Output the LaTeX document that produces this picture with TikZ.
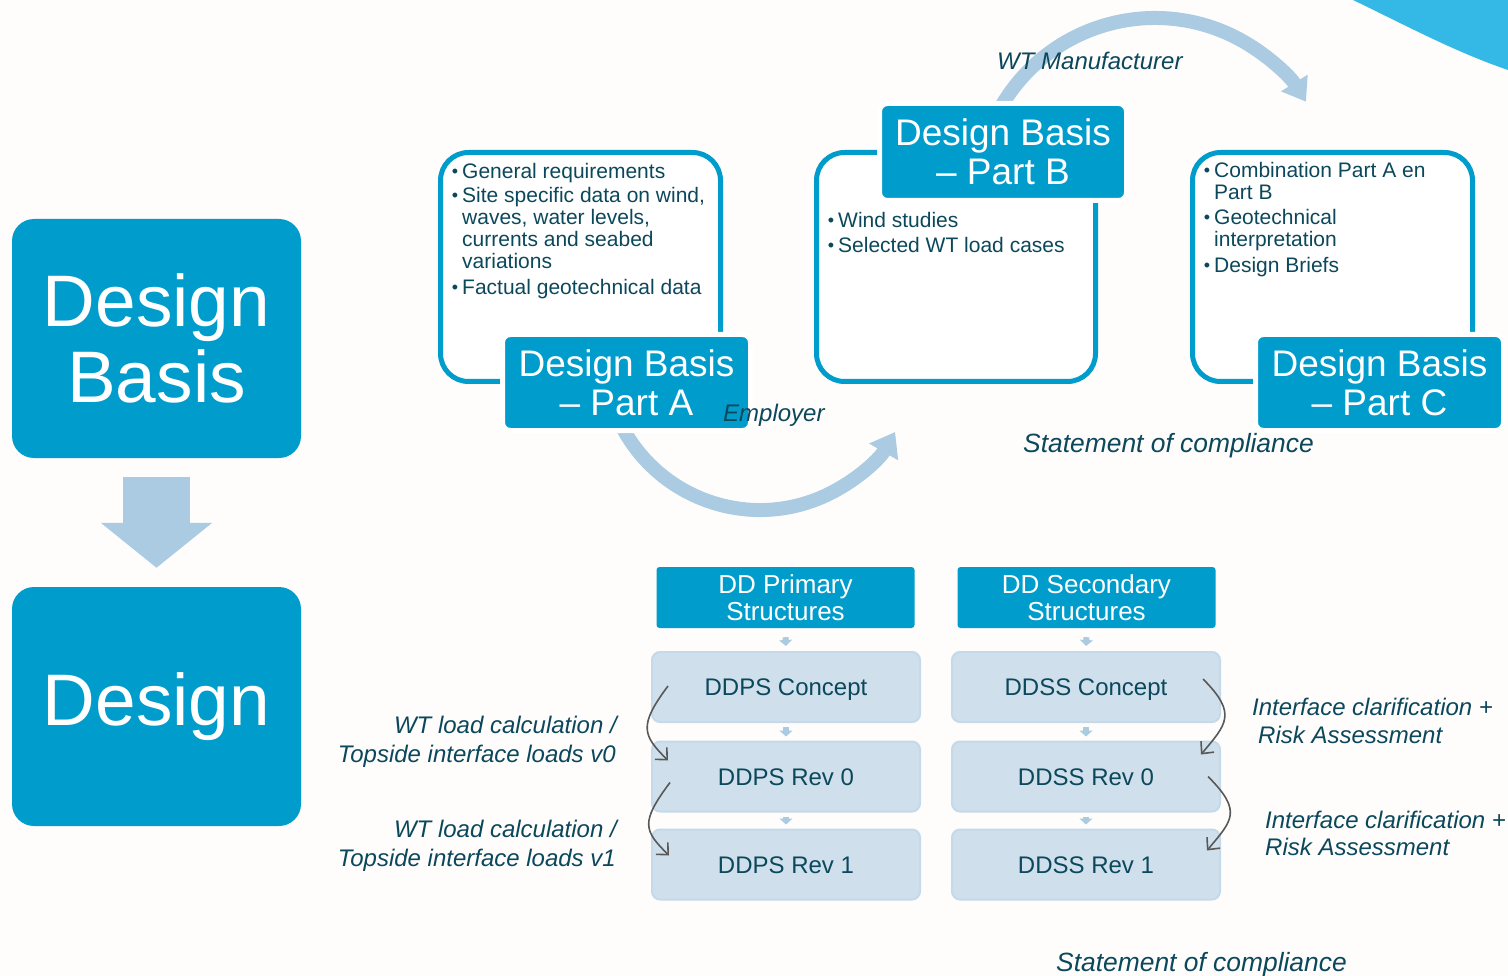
\documentclass[tikz,border=0pt]{standalone}
\usepackage{fontspec}
\setmainfont{Liberation Sans}
\usetikzlibrary{arrows.meta}

\definecolor{dbblue}{RGB}{0,157,204}
\definecolor{skyblue}{RGB}{52,184,230}
\definecolor{arcblue}{RGB}{170,203,225}
\definecolor{inkteal}{RGB}{12,72,92}
\definecolor{stepfill}{RGB}{207,224,236}
\definecolor{stepedge}{RGB}{196,217,233}
\definecolor{paper}{RGB}{254,253,252}
\definecolor{curvegray}{RGB}{88,88,88}

% small bullet placed in the left margin of a list line
\newcommand{\dbbul}{\llap{\raisebox{1pt}{\fontsize{18}{18}\selectfont\textbullet}\hspace{4pt}}}

\tikzset{
  bigbox/.style={fill=dbblue, rounded corners=22, text=white, inner sep=0,
    minimum width=289, minimum height=239, align=center,
    font=\fontsize{73}{76}\selectfont},
  outline/.style={draw=dbblue, line width=5, fill=white, rounded corners=28,
    inner sep=0, minimum width=280, minimum height=229},
  partlabel/.style={fill=dbblue, draw=white, line width=5, rounded corners=8,
    text=white, inner sep=0, minimum width=248, minimum height=96, align=center,
    font=\fontsize{37}{39}\selectfont},
  bul/.style={anchor=base west, inner sep=0, text=inkteal,
    font=\fontsize{21}{22}\selectfont},
  header/.style={fill=dbblue, rounded corners=3, text=white, inner sep=0,
    minimum width=258, minimum height=61, align=center,
    font=\fontsize{26}{27}\selectfont},
  stepbox/.style={fill=stepfill, draw=stepedge, line width=2, rounded corners=8,
    text=inkteal, inner sep=0, minimum width=268, minimum height=70,
    font=\fontsize{24}{26}\selectfont, text height=17, text depth=0},
  note/.style={inner sep=0, text=inkteal, font=\fontsize{24}{29}\selectfont\itshape},
  compl/.style={inner sep=0, text=inkteal, font=\fontsize{26.4}{30}\selectfont\itshape},
  bigarc/.style={draw=arcblue, line width=14},
  tinyarrow/.style={draw=arcblue, line width=6, -{Triangle[width=13pt,length=6pt]}},
  bigdown/.style={draw=arcblue, line width=67, -{Triangle[width=109pt,length=45pt]}},
  curvy/.style={draw=curvegray, line width=1.6, -{Straight Barb[length=9pt,width=17pt]}}
}

\begin{document}
\begin{tikzpicture}[x=1pt,y=-1pt]
% page
\fill[paper] (0,0) rectangle (1508,976);
\useasboundingbox (0,0) rectangle (1508,976);

% corner accent
\fill[skyblue] (1353,0) .. controls (1405,25) and (1455,52) .. (1508,70) -- (1508,0) -- cycle;

% hand-over arcs
\coordinate (topctr) at (1155,196);
\coordinate (botctr) at (760,354);
\draw[bigarc, -{Triangle[width=32pt,length=23pt]}]
  ([shift={(155:156)}]botctr) arc[start angle=155, end angle=30, radius=156];
\draw[bigarc, -{Triangle[width=30pt,length=22pt]}]
  ([shift={(-150:178)}]topctr) arc[start angle=-150, end angle=-32, radius=178];

% left column
\node[bigbox] (dbasis) at (156.5,338.5) {Design\\Basis};
\node[bigbox] (design) at (156.5,706.5) {Design};
\draw[bigdown] ([yshift=-19]dbasis.south) -- ([yshift=19]design.north);

% design basis parts
\node[outline] (boxA) at (580.5,267) {};
\node[outline, minimum width=279] (boxB) at (956,267) {};
\node[outline] (boxC) at (1332.5,267) {};

\node[partlabel] (partA) at (626.5,382.5) {Design Basis\\– Part A};
\node[partlabel, minimum width=247, minimum height=97] (partB) at (1003,152) {Design Basis\\– Part B};
\node[partlabel] (partC) at (1379.5,382.5) {Design Basis\\– Part C};

% part A contents
\node[bul] (a1) at (462,179) {\dbbul General requirements};
\node[bul] (a2) at (462,203) {\dbbul Site specific data on wind,};
\node[bul] (a3) at (462,225) {waves, water levels,};
\node[bul] (a4) at (462,247) {currents and seabed};
\node[bul] (a5) at (462,269) {variations};
\node[bul] (a6) at (462,295) {\dbbul Factual geotechnical data};

% part B contents
\node[bul] (b1) at (838,228) {\dbbul Wind studies};
\node[bul] (b2) at (838,253) {\dbbul Selected WT load cases};

% part C contents
\node[bul] (c1) at (1214,178) {\dbbul Combination Part A en};
\node[bul] (c2) at (1214,200) {Part B};
\node[bul] (c3) at (1214,225) {\dbbul Geotechnical};
\node[bul] (c4) at (1214,247) {interpretation};
\node[bul] (c5) at (1214,273) {\dbbul Design Briefs};

% arc captions
\node[note, anchor=base west] (wtm) at (997,70) {WT Manufacturer};
\node[note, anchor=base west] (emp) at (723,421) {Employer};
\node[compl, anchor=base west] (soc1) at (1023,452) {Statement of compliance};

% detailed design columns
\node[header] (hdrP) at (785.5,597.5) {DD Primary\\Structures};
\node[header] (hdrS) at (1086.5,597.5) {DD Secondary\\Structures};

\node[stepbox] (ddpsc) at (786,687) {DDPS Concept};
\node[stepbox] (ddps0) at (786,776.5) {DDPS Rev 0};
\node[stepbox] (ddps1) at (786,864.5) {DDPS Rev 1};
\node[stepbox] (ddssc) at (1086,687) {DDSS Concept};
\node[stepbox] (ddss0) at (1086,776.5) {DDSS Rev 0};
\node[stepbox] (ddss1) at (1086,864.5) {DDSS Rev 1};

\draw[tinyarrow] ([yshift=-9]hdrP.south) -- ([yshift=5]ddpsc.north);
\draw[tinyarrow] ([yshift=-4]ddpsc.south) -- ([yshift=4]ddps0.north);
\draw[tinyarrow] ([yshift=-4]ddps0.south) -- ([yshift=4]ddps1.north);
\draw[tinyarrow] ([yshift=-9]hdrS.south) -- ([yshift=5]ddssc.north);
\draw[tinyarrow] ([yshift=-4]ddssc.south) -- ([yshift=4]ddss0.north);
\draw[tinyarrow] ([yshift=-4]ddss0.south) -- ([yshift=4]ddss1.north);

% load iterations (primary)
\draw[curvy] ([shift={(17,-1)}]ddpsc.west) .. controls +(-30,40) and +(-25,-25) .. ([shift={(17,-16)}]ddps0.west);
\draw[curvy] ([shift={(19,6)}]ddps0.west) .. controls +(-30,40) and +(-25,-25) .. ([shift={(18,-9)}]ddps1.west);
% interface iterations (secondary)
\draw[curvy] ([shift={(-18,-8)}]ddssc.east) .. controls +(35,35) and +(25,-30) .. ([shift={(-20,-22)}]ddss0.east);
\draw[curvy] ([shift={(-13,0)}]ddss0.east) .. controls +(35,35) and +(25,-30) .. ([shift={(-14,-14)}]ddss1.east);

\node[note, anchor=base east] (wt0a) at (617,733) {WT load calculation /};
\node[note, anchor=base east] (wt0b) at (616,762) {Topside interface loads v0};
\node[note, anchor=base east] (wt1a) at (617,837) {WT load calculation /};
\node[note, anchor=base east] (wt1b) at (616,866) {Topside interface loads v1};

\node[note, anchor=base west] (ic0a) at (1252,715) {Interface clarification +};
\node[note, anchor=base west] (ic0b) at (1258,743) {Risk Assessment};
\node[note, anchor=base west] (ic1a) at (1265,828) {Interface clarification +};
\node[note, anchor=base west] (ic1b) at (1265,855) {Risk Assessment};

\node[compl, anchor=base west] (soc2) at (1056,971) {Statement of compliance};
\end{tikzpicture}
\end{document}
